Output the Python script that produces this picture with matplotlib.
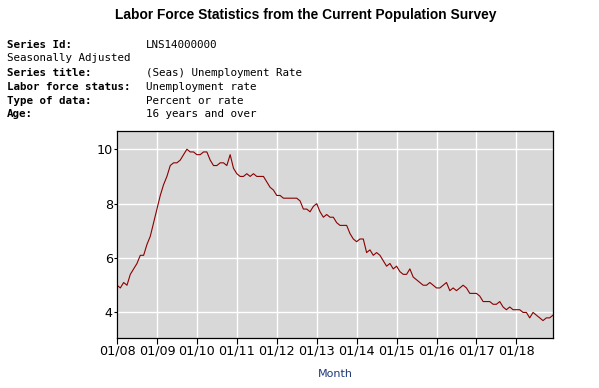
import matplotlib.pyplot as plt
import numpy as np

# Unemployment rate (LNS14000000), monthly, 2008-2018
rate_2008 = [5.0, 4.9, 5.1, 5.0, 5.4, 5.6, 5.8, 6.1, 6.1, 6.5, 6.8, 7.3]
rate_2009 = [7.8, 8.3, 8.7, 9.0, 9.4, 9.5, 9.5, 9.6, 9.8, 10.0, 9.9, 9.9]
rate_2010 = [9.8, 9.8, 9.9, 9.9, 9.6, 9.4, 9.4, 9.5, 9.5, 9.4, 9.8, 9.3]
rate_2011 = [9.1, 9.0, 9.0, 9.1, 9.0, 9.1, 9.0, 9.0, 9.0, 8.8, 8.6, 8.5]
rate_2012 = [8.3, 8.3, 8.2, 8.2, 8.2, 8.2, 8.2, 8.1, 7.8, 7.8, 7.7, 7.9]
rate_2013 = [8.0, 7.7, 7.5, 7.6, 7.5, 7.5, 7.3, 7.2, 7.2, 7.2, 6.9, 6.7]
rate_2014 = [6.6, 6.7, 6.7, 6.2, 6.3, 6.1, 6.2, 6.1, 5.9, 5.7, 5.8, 5.6]
rate_2015 = [5.7, 5.5, 5.4, 5.4, 5.6, 5.3, 5.2, 5.1, 5.0, 5.0, 5.1, 5.0]
rate_2016 = [4.9, 4.9, 5.0, 5.1, 4.8, 4.9, 4.8, 4.9, 5.0, 4.9, 4.7, 4.7]
rate_2017 = [4.7, 4.6, 4.4, 4.4, 4.4, 4.3, 4.3, 4.4, 4.2, 4.1, 4.2, 4.1]
rate_2018 = [4.1, 4.1, 4.0, 4.0, 3.8, 4.0, 3.9, 3.8, 3.7, 3.8, 3.8, 3.9]

years = ["08", "09", "10", "11", "12", "13", "14", "15", "16", "17", "18"]
tick_labels = ["01/" + y for y in years]
y_ticks = [4, 6, 8, 10]

header_keys = ["Series Id:", "Seasonally Adjusted", "Series title:",
               "Labor force status:", "Type of data:", "Age:"]
header_vals = ["LNS14000000", "", "(Seas) Unemployment Rate",
               "Unemployment rate", "Percent or rate", "16 years and over"]

rate = np.array(rate_2008 + rate_2009 + rate_2010 + rate_2011 + rate_2012 + rate_2013
                + rate_2014 + rate_2015 + rate_2016 + rate_2017 + rate_2018)
months = np.arange(len(rate))

W, H = 599, 388
fig = plt.figure(figsize=(W / 100, H / 100), dpi=100)
fig.patch.set_facecolor("white")

# title and series header
fig.text(306 / W, 1 - 15 / H, "Labor Force Statistics from the Current Population Survey",
         ha="center", va="center", fontsize=9.9, fontweight="bold", family="Liberation Sans")
line_y = [45, 58, 73, 87, 101, 114]
for i, (k, v) in enumerate(zip(header_keys, header_vals)):
    wt = "normal" if k == "Seasonally Adjusted" else "bold"
    fig.text(7 / W, 1 - line_y[i] / H, k, ha="left", va="center", fontsize=7.8,
             family="DejaVu Sans Mono", fontweight=wt)
    if v:
        fig.text(146 / W, 1 - line_y[i] / H, v, ha="left", va="center", fontsize=7.8,
                 family="DejaVu Sans Mono")

ax = fig.add_axes([117 / W, 50 / H, 436 / W, 207 / H])
ax.set_facecolor("#d8d8d8")
ax.plot(months, rate, color="#8b0000", lw=0.8)

ax.set_xlim(0, len(rate) - 1)
ax.set_ylim(3.06, 10.67)
ax.set_xticks(np.arange(0, len(rate), 12))
ax.set_xticklabels(tick_labels)
ax.set_yticks(y_ticks)
ax.set_yticklabels([str(t) for t in y_ticks])
ax.grid(True, color="white", lw=1)
ax.set_axisbelow(True)
ax.tick_params(axis="x", length=4, width=0.8, pad=1, labelsize=9.2)
ax.tick_params(axis="y", length=2, width=0.8, pad=1, labelsize=9.2)
for s in ax.spines.values():
    s.set_color("black")
    s.set_linewidth(0.9)

ax.set_xlabel("Month", color="#1f3a78", fontsize=8, labelpad=8)

fig.savefig("out.png", dpi=100)
